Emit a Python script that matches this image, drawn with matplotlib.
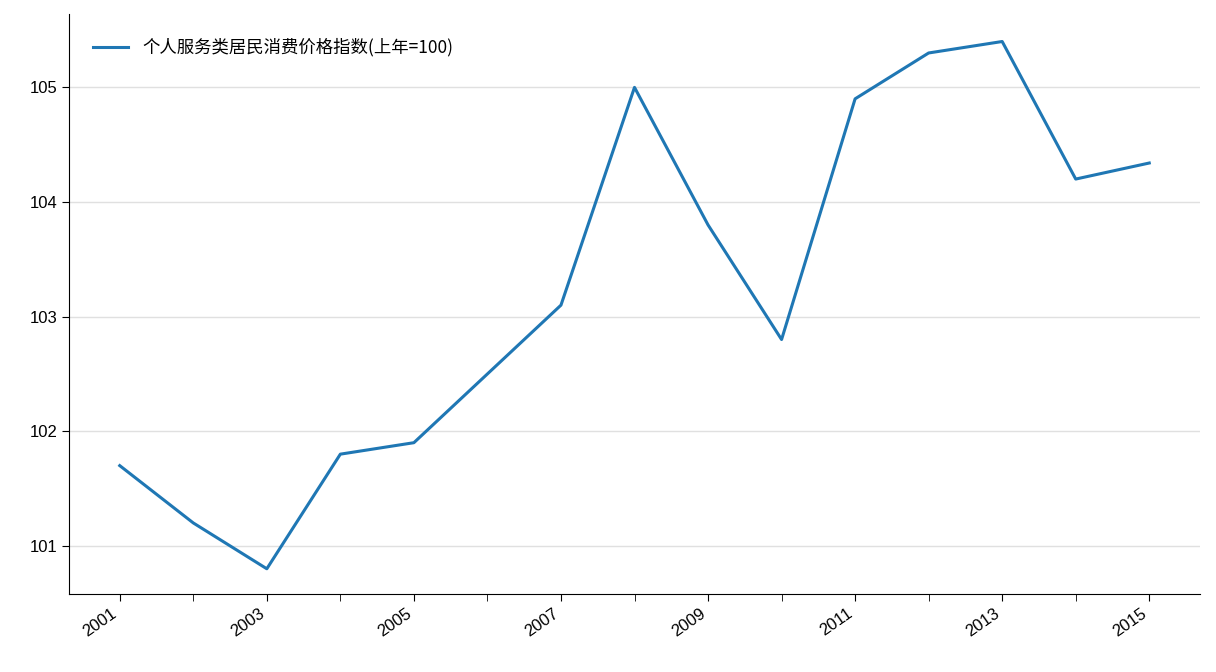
import matplotlib
matplotlib.use("Agg")
import matplotlib.pyplot as plt

plt.rcParams['font.family'] = ['Liberation Sans', 'Noto Sans CJK SC', 'DejaVu Sans']

years = list(range(2001, 2016))
values = [101.7, 101.2, 100.8, 101.8, 101.9, 102.5, 103.1, 105.0, 103.8, 102.8, 104.9, 105.3, 105.4, 104.2, 104.34]
label = "个人服务类居民消费价格指数(上年=100)"

fig = plt.figure(figsize=(12.16, 6.72), dpi=100)
ax = fig.add_axes([69/1216, 78/672, 1131/1216, 580/672])
ax.plot(years, values, color='#1f77b4', lw=2.2, label=label)
ax.set_xlim(2000.31, 2015.69)
ax.set_ylim(100.58, 105.64)
ax.set_xticks(years[::2])
ax.set_xticks(years, minor=True)
ax.set_yticks([101, 102, 103, 104, 105])
ax.tick_params(axis='both', labelsize=12)
ax.tick_params(which='both', length=5)
for t in ax.get_xticklabels():
    t.set_rotation(35)
    t.set_ha('right')
ax.grid(axis='y', color='#e0e0e0', lw=1)
ax.set_axisbelow(True)
for s in ['top', 'right']:
    ax.spines[s].set_visible(False)
ax.legend(loc='upper left', frameon=False, borderaxespad=1.0,
          prop={'family': ['Noto Sans CJK SC', 'DejaVu Sans'], 'size': 12.5})
fig.savefig('out.png', dpi=100)
